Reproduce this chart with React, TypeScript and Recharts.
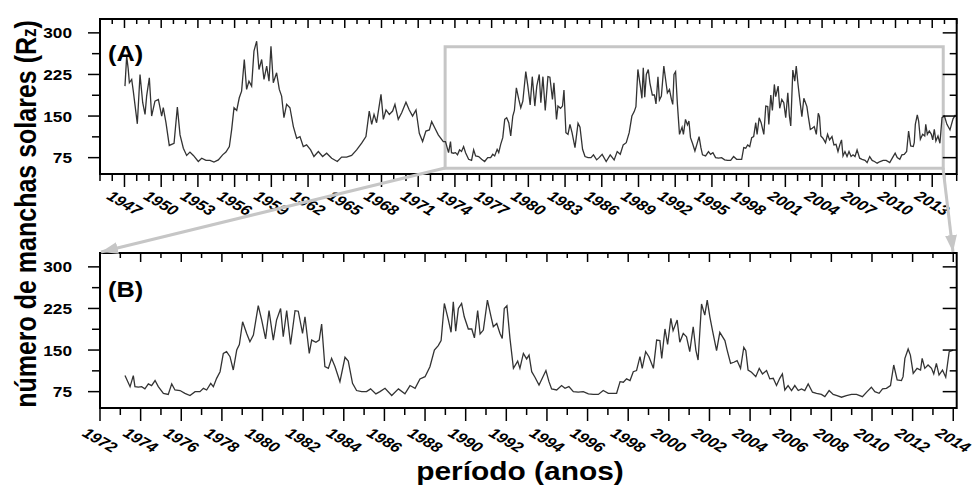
import React from 'react'
import { LineChart, Line, XAxis, YAxis, ReferenceArea } from 'recharts'

// monthly-ish readings [year, Rz], split per solar cycle
const cycle18: [number, number][] = [
  [1947.04, 204], [1947.18, 258], [1947.3, 236], [1947.4, 210], [1947.59, 216], [1947.72, 195], [1948.05, 136],
  [1948.27, 225], [1948.49, 174], [1948.68, 153], [1948.81, 186], [1949.03, 219], [1949.22, 150],
  [1949.49, 177], [1949.77, 180], [1950.04, 150], [1950.17, 165], [1950.39, 138], [1950.66, 97],
  [1951.05, 101], [1951.32, 166], [1951.54, 116], [1951.81, 92], [1952.08, 79], [1952.35, 85],
  [1952.63, 79], [1953.03, 68], [1953.31, 74], [1953.66, 70], [1953.99, 70], [1954.31, 67],
]

const cycle19: [number, number][] = [
  [1954.67, 71], [1955.02, 80], [1955.29, 85], [1955.57, 95], [1955.76, 126], [1955.95, 165],
  [1956.17, 160], [1956.38, 183], [1956.57, 195], [1956.79, 252], [1956.98, 198], [1957.17, 213],
  [1957.39, 204], [1957.58, 267], [1957.8, 285], [1957.99, 234], [1958.21, 252], [1958.4, 216],
  [1958.62, 240], [1958.81, 213], [1958.97, 276], [1959.16, 210], [1959.43, 228], [1959.65, 198],
  [1959.84, 186], [1960.03, 147], [1960.25, 171], [1960.52, 165], [1960.8, 131], [1961.07, 110],
  [1961.34, 113], [1961.61, 95], [1961.88, 98], [1962.21, 89], [1962.48, 77], [1962.84, 86],
  [1963.19, 77], [1963.52, 83], [1963.93, 74], [1964.39, 68],
]

const cycle20: [number, number][] = [
  [1964.74, 76], [1965.15, 76], [1965.56, 79], [1965.97, 89], [1966.38, 101], [1966.73, 113],
  [1967.0, 159], [1967.2, 135], [1967.39, 153], [1967.6, 138], [1967.96, 189], [1968.15, 144],
  [1968.37, 161], [1968.64, 153], [1968.91, 159], [1969.1, 171], [1969.37, 144], [1969.65, 156],
  [1970.0, 175], [1970.27, 161], [1970.54, 150], [1970.82, 161], [1971.09, 119], [1971.36, 104],
  [1971.63, 123], [1971.91, 125], [1972.1, 140], [1972.37, 128], [1972.64, 116], [1973.05, 104],
  [1973.23, 104], [1973.48, 84], [1973.64, 104], [1973.72, 84], [1973.89, 83], [1974.05, 84],
  [1974.21, 80], [1974.38, 89], [1974.54, 86], [1974.71, 95], [1974.87, 84], [1975.12, 72],
  [1975.36, 70], [1975.53, 89], [1975.69, 78], [1975.94, 77], [1976.18, 72], [1976.43, 68],
]

const cycle21: [number, number][] = [
  [1976.68, 75], [1976.92, 75], [1977.09, 81], [1977.25, 78], [1977.45, 90], [1977.58, 84],
  [1977.74, 99], [1977.91, 111], [1978.07, 144], [1978.23, 147], [1978.4, 138], [1978.56, 114],
  [1978.73, 150], [1978.86, 160], [1979.02, 201], [1979.22, 180], [1979.38, 165], [1979.55, 177],
  [1979.79, 230], [1979.96, 204], [1980.15, 170], [1980.32, 221], [1980.53, 168], [1980.69, 204],
  [1980.89, 225], [1981.02, 174], [1981.19, 221], [1981.38, 160], [1981.6, 221], [1981.76, 220],
  [1981.97, 180], [1982.09, 210], [1982.3, 144], [1982.42, 168], [1982.63, 164], [1982.79, 168],
  [1982.91, 197], [1983.07, 120], [1983.24, 117], [1983.4, 135], [1983.57, 120], [1983.81, 93],
  [1984.06, 137], [1984.22, 130], [1984.43, 90], [1984.63, 77], [1984.88, 75], [1985.12, 75],
  [1985.32, 80], [1985.58, 71], [1985.78, 75], [1986.03, 81], [1986.36, 68],
]

const cycle22: [number, number][] = [
  [1986.69, 80], [1987.01, 71], [1987.26, 86], [1987.51, 81], [1987.75, 98], [1988.0, 102],
  [1988.24, 120], [1988.46, 150], [1988.65, 158], [1988.79, 167], [1988.95, 234], [1989.15, 204],
  [1989.28, 182], [1989.39, 237], [1989.51, 184], [1989.64, 225], [1989.8, 234], [1989.93, 210],
  [1990.13, 188], [1990.3, 188], [1990.43, 172], [1990.59, 221], [1990.71, 179], [1990.87, 186],
  [1991.07, 240], [1991.25, 210], [1991.36, 192], [1991.53, 198], [1991.69, 180], [1991.8, 171],
  [1991.9, 225], [1992.03, 230], [1992.18, 171], [1992.35, 117], [1992.56, 130], [1992.67, 117],
  [1992.84, 144], [1993.0, 134], [1993.12, 141], [1993.25, 111], [1993.41, 101], [1993.61, 87],
  [1993.77, 99], [1993.95, 113], [1994.1, 93], [1994.23, 80], [1994.48, 78], [1994.72, 86],
  [1994.89, 81], [1995.08, 84], [1995.3, 75], [1995.54, 74], [1995.79, 75], [1996.04, 71],
  [1996.28, 70], [1996.53, 70],
]

const cycle23: [number, number][] = [
  [1996.77, 77], [1997.02, 72], [1997.27, 72], [1997.43, 72], [1997.6, 93], [1997.76, 92],
  [1997.92, 98], [1998.09, 95], [1998.25, 111], [1998.41, 113], [1998.58, 138], [1998.69, 117],
  [1998.86, 147], [1999.02, 138], [1999.24, 117], [1999.4, 168], [1999.56, 167], [1999.65, 135],
  [1999.81, 188], [1999.94, 160], [2000.1, 207], [2000.21, 185], [2000.41, 204], [2000.54, 164],
  [2000.71, 180], [2000.87, 174], [2001.03, 147], [2001.2, 192], [2001.33, 150], [2001.44, 132],
  [2001.61, 233], [2001.77, 213], [2001.89, 240], [2002.02, 210], [2002.15, 185], [2002.35, 149],
  [2002.51, 182], [2002.76, 167], [2002.87, 150], [2003.04, 126], [2003.2, 128], [2003.36, 131],
  [2003.53, 117], [2003.69, 155], [2003.79, 149], [2003.9, 114], [2004.07, 110], [2004.28, 102],
  [2004.45, 117], [2004.61, 107], [2004.81, 113], [2004.97, 98], [2005.14, 99], [2005.3, 86],
  [2005.46, 99], [2005.59, 107], [2005.71, 78], [2005.87, 86], [2006.04, 77], [2006.2, 86],
  [2006.37, 77], [2006.53, 80], [2006.69, 77], [2006.86, 89], [2007.07, 74], [2007.27, 72],
  [2007.51, 70], [2007.68, 66], [2007.89, 77], [2008.09, 70], [2008.28, 68], [2008.5, 65],
  [2008.74, 68], [2008.99, 70],
]

const cycle24: [number, number][] = [
  [2009.24, 70], [2009.53, 66], [2009.76, 75], [2009.97, 83], [2010.14, 75], [2010.35, 72],
  [2010.52, 80], [2010.71, 81], [2010.91, 86], [2011.07, 123], [2011.24, 96], [2011.45, 95],
  [2011.53, 102], [2011.62, 135], [2011.78, 152], [2011.89, 141], [2012.03, 108], [2012.22, 117],
  [2012.39, 114], [2012.47, 135], [2012.6, 117], [2012.76, 123], [2012.93, 117], [2013.04, 107],
  [2013.17, 126], [2013.3, 105], [2013.47, 114], [2013.63, 101], [2013.8, 147], [2014.0, 150],
  [2014.2, 135], [2014.45, 125], [2014.7, 145], [2014.9, 152],
]

// axis labels
const labelYearsA = [1947, 1950, 1953, 1956, 1959, 1962, 1965, 1968, 1971, 1974, 1977, 1980, 1983, 1986, 1989, 1992, 1995, 1998, 2001, 2004, 2007, 2010, 2013]
const labelYearsB = [1972, 1974, 1976, 1978, 1980, 1982, 1984, 1986, 1988, 1990, 1992, 1994, 1996, 1998, 2000, 2002, 2004, 2006, 2008, 2010, 2012, 2014]
const valueLabels = [75, 150, 225, 300]
const valueTicks = [75, 112.5, 150, 187.5, 225, 262.5, 300]

// zoomed window (grey box in panel A)
const zoomYears = [1973.2, 2013.9]
const zoomValues = [56, 275]

const yearsFrom = (a: number, b: number) => Array.from({ length: b - a + 1 }, (_, i) => a + i)

const rows = [...cycle18, ...cycle19, ...cycle20, ...cycle21, ...cycle22, ...cycle23, ...cycle24].map(([year, rz]) => ({ year, rz }))
const rowsB = rows.filter((r) => r.year >= zoomYears[0] && r.year <= 2014.05)

const FONT = 'Arial, "Liberation Sans", sans-serif'
const SX = 1.15 // the source figure is slightly stretched horizontally
const GREY = '#c6c6c6'
const VDOMAIN: [number, number] = [45.5, 325]
const PLOT_L = 100
const PLOT_W = 856.7
const PLOT_H = 155

const PANEL_A = { top: 19, domain: [1945, 2015], years: yearsFrom(1945, 2015), labels: labelYearsA }
const PANEL_B = { top: 253, domain: [1972, 2014.17], years: yearsFrom(1972, 2014), labels: labelYearsB }

function BottomTick({ x, y, payload, labels, labelGap }: any) {
  const major = labels.includes(payload.value)
  return (
    <g>
      <line x1={x} x2={x} y1={y} y2={y + (major ? 13 : 7)} stroke="#000" strokeWidth={1.5} />
      {major && (
        <text
          transform={`translate(${x},${y + labelGap}) scale(${SX},1) rotate(34)`}
          textAnchor="middle"
          dominantBaseline="central"
          fontFamily={FONT}
          fontSize={14.5}
          fontWeight="bold"
          fontStyle="italic"
          fill="#000"
        >
          {payload.value}
        </text>
      )}
    </g>
  )
}

function LeftTick({ x, y, payload }: any) {
  const major = valueLabels.includes(payload.value)
  return (
    <g>
      <line x1={x - (major ? 12 : 8)} x2={x} y1={y} y2={y} stroke="#000" strokeWidth={1.5} />
      {major && (
        <text
          transform={`translate(${x - 28},${y}) scale(${SX},1)`}
          textAnchor="end"
          dominantBaseline="central"
          fontFamily={FONT}
          fontWeight="bold"
          fontSize={15}
          fill="#000"
        >
          {payload.value}
        </text>
      )}
    </g>
  )
}

const axisLine = { stroke: '#000', strokeWidth: 2 }

function Panel({ data, domain, yearTicks, labels, height, top, bottomAxisH, labelGap, children }: any) {
  return (
    <LineChart
      width={972}
      height={height}
      data={data}
      margin={{ top, right: 972 - PLOT_L - PLOT_W, bottom: height - top - PLOT_H - bottomAxisH, left: PLOT_L - 60 }}
    >
      <XAxis
        dataKey="year"
        type="number"
        domain={domain}
        ticks={yearTicks}
        interval={0}
        height={bottomAxisH}
        tickSize={0}
        tickMargin={0}
        tickLine={false}
        axisLine={axisLine}
        tick={(p: any) => <BottomTick {...p} labels={labels} labelGap={labelGap} />}
      />
      <YAxis
        type="number"
        domain={VDOMAIN}
        ticks={valueTicks}
        interval={0}
        width={60}
        tickSize={0}
        tickMargin={0}
        tickLine={false}
        axisLine={axisLine}
        tick={(p: any) => <LeftTick {...p} />}
      />
      {children}
      <Line
        type="linear"
        dataKey="rz"
        stroke="#333"
        strokeWidth={1.3}
        dot={false}
        isAnimationActive={false}
      />
    </LineChart>
  )
}

// closed frame with inward ticks on the top and right borders
function Frame({ panel }: any) {
  const [d0, d1] = panel.domain
  const px = (yr: number) => PLOT_L + ((yr - d0) / (d1 - d0)) * PLOT_W
  const py = (v: number) => panel.top + ((VDOMAIN[1] - v) / (VDOMAIN[1] - VDOMAIN[0])) * PLOT_H
  const right = PLOT_L + PLOT_W
  return (
    <g stroke="#000" strokeWidth={1.5}>
      <rect x={PLOT_L} y={panel.top} width={PLOT_W} height={PLOT_H} fill="none" strokeWidth={2} />
      {panel.years.map((yr: number) => (
        <line key={yr} x1={px(yr)} x2={px(yr)} y1={panel.top} y2={panel.top + (panel.labels.includes(yr) ? 9 : 5)} />
      ))}
      {valueTicks.map((v) => (
        <line key={v} x1={right - (valueLabels.includes(v) ? 14 : 7)} x2={right} y1={py(v)} y2={py(v)} />
      ))}
    </g>
  )
}

export default function App() {
  return (
    <div style={{ position: 'absolute', left: 0, top: 0, width: 972, height: 486, background: '#fff', overflow: 'hidden' }}>
      <div style={{ position: 'absolute', left: 0, top: 0, width: 972, height: 240 }}>
        <Panel data={rows} domain={PANEL_A.domain} yearTicks={PANEL_A.years} labels={labelYearsA} height={240} top={PANEL_A.top} bottomAxisH={62} labelGap={29}>
          <ReferenceArea
            x1={zoomYears[0]}
            x2={zoomYears[1]}
            y1={zoomValues[0]}
            y2={zoomValues[1]}
            ifOverflow="visible"
            fill="none"
            fillOpacity={0}
            stroke={GREY}
            strokeWidth={3}
          />
        </Panel>
      </div>
      <div style={{ position: 'absolute', left: 0, top: 240, width: 972, height: 246 }}>
        <Panel data={rowsB} domain={PANEL_B.domain} yearTicks={PANEL_B.years} labels={labelYearsB} height={246} top={PANEL_B.top - 240} bottomAxisH={74} labelGap={32} />
      </div>
      <svg width={972} height={486} style={{ position: 'absolute', left: 0, top: 0, pointerEvents: 'none' }}>
        <defs>
          <marker id="head" markerUnits="userSpaceOnUse" markerWidth={18} markerHeight={12} refX={17} refY={6} orient="auto">
            <path d="M0,0 L17,6 L0,12 z" fill={GREY} />
          </marker>
        </defs>
        <Frame panel={PANEL_A} />
        <Frame panel={PANEL_B} />
        <line x1={445} y1={168} x2={101} y2={252} stroke={GREY} strokeWidth={3} markerEnd="url(#head)" />
        <line x1={943} y1={168} x2={953} y2={252} stroke={GREY} strokeWidth={3} markerEnd="url(#head)" />
        <text transform={`translate(108,61) scale(${SX},1)`} fontFamily={FONT} fontWeight="bold" fontSize={22} fill="#000">(A)</text>
        <text transform={`translate(108,297) scale(${SX},1)`} fontFamily={FONT} fontWeight="bold" fontSize={22} fill="#000">(B)</text>
        <text transform={`translate(36,214) scale(${SX},1) rotate(-90)`} textAnchor="middle" fontFamily={FONT} fontWeight="bold" fontSize={25} fill="#000">
          número de manchas solares (R<tspan fontSize={17}>z</tspan>)
        </text>
        <text transform={`translate(520,480) scale(${SX},1)`} textAnchor="middle" fontFamily={FONT} fontWeight="bold" fontSize={26} fill="#000">
          período (anos)
        </text>
      </svg>
    </div>
  )
}
